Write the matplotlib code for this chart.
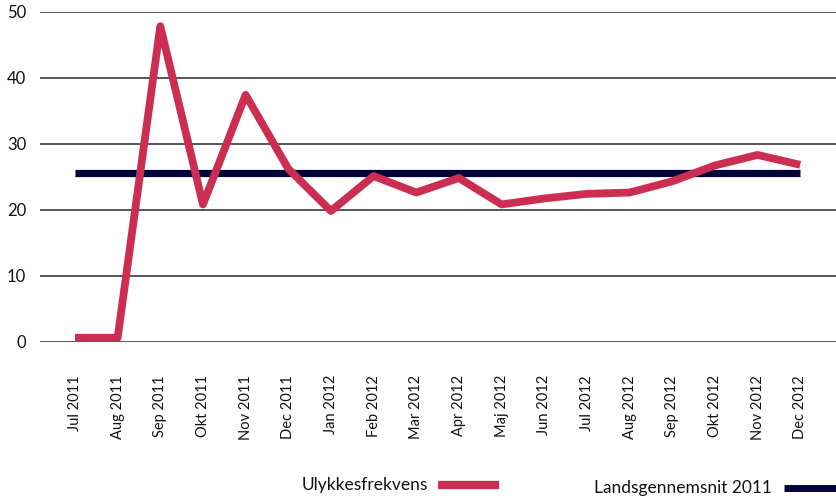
import matplotlib.pyplot as plt
from matplotlib.lines import Line2D

months = ["Jul 2011", "Aug 2011", "Sep 2011", "Okt 2011", "Nov 2011", "Dec 2011",
          "Jan 2012", "Feb 2012", "Mar 2012", "Apr 2012", "Maj 2012", "Jun 2012",
          "Jul 2012", "Aug 2012", "Sep 2012", "Okt 2012", "Nov 2012", "Dec 2012"]
ulykkesfrekvens = [0.6, 0.6, 47.8, 20.8, 37.4, 26.2, 19.8, 25.1, 22.6, 24.8,
                   20.8, 21.7, 22.4, 22.6, 24.3, 26.7, 28.3, 26.8]
landsgennemsnit = 25.6

RED = "#cc2e52"
NAVY = "#00043a"
FONT = ["Lato", "DejaVu Sans"]

plt.rcParams["font.family"] = FONT

fig = plt.figure(figsize=(8.36, 4.96), dpi=100)
ax = fig.add_axes([40 / 836, 1 - 341.7 / 496, 1 - 40 / 836, 330 / 496])

x = list(range(len(months)))
ax.plot(x, [landsgennemsnit] * len(x), color=NAVY, linewidth=5.2,
        solid_capstyle="butt", zorder=3)
ax.plot(x, ulykkesfrekvens, color=RED, linewidth=5.6, solid_capstyle="butt",
        solid_joinstyle="round", zorder=4, clip_on=False)

ax.set_ylim(0, 50)
ax.set_xlim(-0.82, 17.84)
ax.set_yticks(range(0, 51, 10))
ax.set_xticks(x)
ax.set_xticklabels(months, rotation=90, fontsize=10.5, color="#111111")
ax.tick_params(axis="y", length=0, pad=10, labelsize=12, labelcolor="#111111")
ax.tick_params(axis="x", length=0, pad=24)
ax.grid(axis="y", color="#555555", linewidth=1.4)
ax.set_axisbelow(True)
for side in ax.spines.values():
    side.set_visible(False)

# legend, laid out by hand like the original
fig.text(302 / 836, 1 - 485 / 496, "Ulykkesfrekvens", fontsize=12.5,
         va="center", ha="left", color="#111111")
fig.add_artist(Line2D([438 / 836, 499 / 836], [1 - 485 / 496] * 2,
                      color=RED, linewidth=6, solid_capstyle="butt"))
fig.text(594 / 836, 1 - 488 / 496, "Landsgennemsnit 2011", fontsize=12.5,
         va="center", ha="left", color="#111111")
fig.add_artist(Line2D([784 / 836, 836 / 836], [1 - 488 / 496] * 2,
                      color=NAVY, linewidth=5, solid_capstyle="butt"))

fig.savefig("out.png", dpi=100)
